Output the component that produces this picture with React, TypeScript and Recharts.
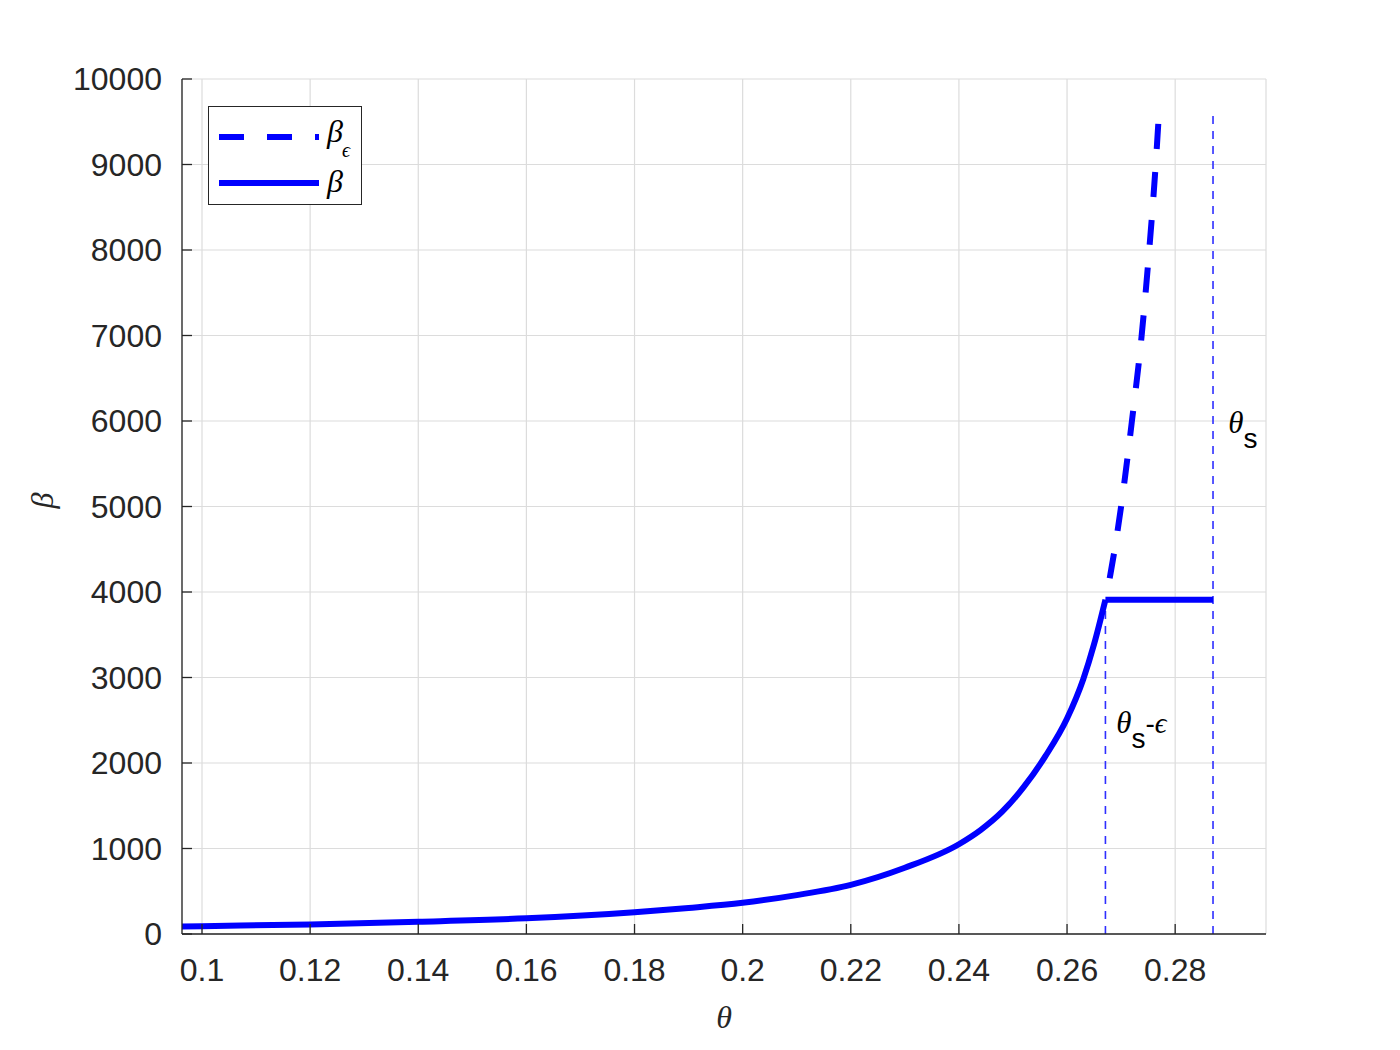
import {
  CartesianGrid,
  Legend,
  Line,
  LineChart,
  ReferenceDot,
  ReferenceLine,
  XAxis,
  YAxis
} from "recharts";

const thetaTicks = [0.1, 0.12, 0.14, 0.16, 0.18, 0.2, 0.22, 0.24, 0.26, 0.28];
const betaTicks = [0, 1000, 2000, 3000, 4000, 5000, 6000, 7000, 8000, 9000, 10000];
const thetaDomain = [0.0963, 0.2968];

// solid beta curve
const curveTheta = [
  0.0963, 0.1, 0.12, 0.14, 0.16, 0.18, 0.19, 0.2, 0.21, 0.22, 0.23, 0.24, 0.244, 0.248, 0.252,
  0.256, 0.26, 0.263, 0.265, 0.2671
];
const curveBeta = [
  88, 92, 112, 143, 183, 255, 305, 365, 455, 575, 775, 1050, 1215, 1430, 1720, 2080, 2520, 2980,
  3390, 3910
];

// saturated part of beta
const flatTheta = [0.2671, 0.287];
const flatBeta = [3910, 3910];

// beta_epsilon, dashed
const epsTheta = [0.2671, 0.268, 0.27, 0.272, 0.2738, 0.2752, 0.2764, 0.2769];
const epsBeta = [3910, 4200, 5000, 6000, 7000, 8000, 9000, 9500];

const thetaSEps = 0.2671;
const thetaS = 0.287;
const betaCap = 3910;
const guideTop = 9580;

const toPoints = (ts: number[], bs: number[]) => ts.map((t, i) => ({ t, b: bs[i] }));

const curveData = toPoints(curveTheta, curveBeta);
const flatData = toPoints(flatTheta, flatBeta);
const epsData = toPoints(epsTheta, epsBeta);

const SANS = "'Liberation Sans', Arial, Helvetica, sans-serif";
const SERIF = "'Liberation Serif', 'DejaVu Serif', 'Times New Roman', serif";
const INK = "#262626";
const BLUE = "#0000ff";
const GUIDE = "#2f2fff";

function LegendBox() {
  return (
    <div
      style={{
        width: 152,
        height: 97,
        border: `1.3px solid ${INK}`,
        background: "#fff"
      }}
    >
      <svg width={152} height={97}>
        <line
          x1={10}
          x2={110}
          y1={30}
          y2={30}
          stroke={BLUE}
          strokeWidth={6}
          strokeDasharray="25 23"
        />
        <text x={118} y={35} fontFamily={SERIF} fontStyle="italic" fontSize={32} fill="#000">
          β
          <tspan fontSize={20} dx={-1} dy={15}>
            ϵ
          </tspan>
        </text>
        <line x1={10} x2={110} y1={76} y2={76} stroke={BLUE} strokeWidth={6} />
        <text x={118} y={85} fontFamily={SERIF} fontStyle="italic" fontSize={32} fill="#000">
          β
        </text>
      </svg>
    </div>
  );
}

function SubLabel({ viewBox, withEps }: any) {
  const x = viewBox?.x ?? 0;
  const y = viewBox?.y ?? 0;
  return (
    <text x={x} y={y} fill="#000">
      <tspan fontFamily={SERIF} fontStyle="italic" fontSize={31}>
        θ
      </tspan>
      <tspan fontFamily={SANS} fontSize={28} dy={15}>
        s
      </tspan>
      {withEps ? (
        <>
          <tspan fontFamily={SANS} fontSize={28} dy={-15}>
            -
          </tspan>
          <tspan fontFamily={SERIF} fontStyle="italic" fontSize={29}>
            ϵ
          </tspan>
        </>
      ) : null}
    </text>
  );
}

export default function App() {
  const tickStyle = { fontFamily: SANS, fontSize: 32, fill: INK };

  return (
    <div style={{ width: 1392, height: 1042, background: "#fff" }}>
      <LineChart
        width={1392}
        height={1042}
        margin={{ top: 71, right: 134, bottom: 56, left: 0 }}
        style={{ background: "#fff" }}
      >
        <CartesianGrid stroke="#dcdcdc" strokeWidth={1.2} />
        <XAxis
          type="number"
          dataKey="t"
          domain={thetaDomain}
          ticks={thetaTicks}
          allowDataOverflow
          height={60}
          tick={tickStyle}
          tickSize={-10}
          tickMargin={34}
          tickFormatter={(v) => String(v)}
          stroke={INK}
          strokeWidth={1.3}
          label={(props: any) => {
            const vb = props.viewBox || {};
            return (
              <text
                x={vb.x + vb.width / 2}
                y={vb.y + 94}
                textAnchor="middle"
                fontFamily={SERIF}
                fontStyle="italic"
                fontSize={32}
                fill={INK}
              >
                θ
              </text>
            );
          }}
        />
        <YAxis
          type="number"
          dataKey="b"
          domain={[0, 10000]}
          ticks={betaTicks}
          allowDataOverflow
          width={174}
          tick={tickStyle}
          tickSize={-10}
          tickMargin={30}
          stroke={INK}
          strokeWidth={1.3}
          label={(props: any) => {
            const vb = props.viewBox || {};
            const cx = 34;
            const cy = vb.y + vb.height / 2 - 6;
            return (
              <text
                x={cx}
                y={cy}
                transform={`rotate(-90 ${cx} ${cy})`}
                textAnchor="middle"
                dominantBaseline="central"
                fontFamily={SERIF}
                fontStyle="italic"
                fontSize={32}
                fill={INK}
              >
                β
              </text>
            );
          }}
        />
        <ReferenceLine
          segment={[
            { x: thetaSEps, y: 0 },
            { x: thetaSEps, y: betaCap }
          ]}
          stroke={GUIDE}
          strokeWidth={1.6}
          strokeDasharray="8 7"
        />
        <ReferenceLine
          segment={[
            { x: thetaS, y: 0 },
            { x: thetaS, y: guideTop }
          ]}
          stroke={GUIDE}
          strokeWidth={1.6}
          strokeDasharray="8 7"
        />
        <Line
          data={epsData}
          dataKey="b"
          type="monotone"
          stroke={BLUE}
          strokeWidth={6}
          strokeDasharray="25 23"
          strokeDashoffset={26}
          dot={false}
          activeDot={false}
          isAnimationActive={false}
          legendType="none"
        />
        <Line
          data={curveData}
          dataKey="b"
          type="monotone"
          stroke={BLUE}
          strokeWidth={6}
          dot={false}
          activeDot={false}
          isAnimationActive={false}
          legendType="none"
        />
        <Line
          data={flatData}
          dataKey="b"
          type="linear"
          stroke={BLUE}
          strokeWidth={6}
          dot={false}
          activeDot={false}
          isAnimationActive={false}
          legendType="none"
        />
        <ReferenceDot
          x={0.2691}
          y={2346}
          r={0}
          fill="none"
          stroke="none"
          label={(p: any) => <SubLabel viewBox={p.viewBox} withEps />}
        />
        <ReferenceDot
          x={0.2898}
          y={5857}
          r={0}
          fill="none"
          stroke="none"
          label={(p: any) => <SubLabel viewBox={p.viewBox} />}
        />
        <Legend
          layout="horizontal"
          verticalAlign="middle"
          align="center"
          content={() => <LegendBox />}
          wrapperStyle={{ left: 200, top: 98, width: 154, height: 99 }}
        />
      </LineChart>
    </div>
  );
}
